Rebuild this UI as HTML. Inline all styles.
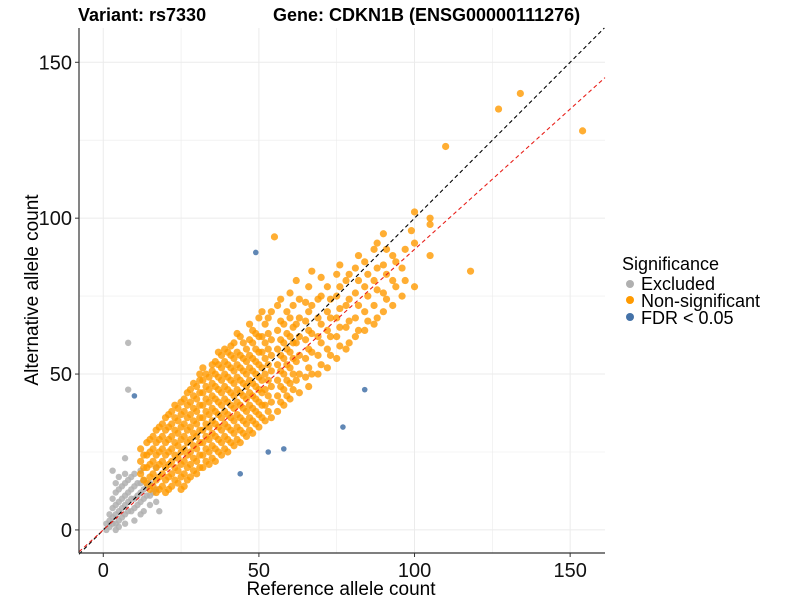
<!DOCTYPE html>
<html><head><meta charset="utf-8"><style>
body{margin:0;background:#fff}
svg text{font-family:"Liberation Sans",Arial,sans-serif}
</style></head><body>
<svg id="chart" width="800" height="600" xmlns="http://www.w3.org/2000/svg">
<rect width="800" height="600" fill="#fff"/>
<g id="grid"></g>
<g id="pts"></g>
<g id="lines"></g>
<line x1="79" y1="28" x2="79" y2="553" stroke="#333" stroke-width="1.2"/>
<line x1="79" y1="553" x2="605" y2="553" stroke="#333" stroke-width="1.2"/>
<g id="ticks"></g>
<text x="78" y="21" font-size="18" font-weight="bold">Variant: rs7330</text>
<text x="273" y="21" font-size="18" font-weight="bold">Gene: CDKN1B (ENSG00000111276)</text>
<text x="341" y="595" font-size="19" text-anchor="middle">Reference allele count</text>
<text transform="translate(38,290) rotate(-90)" font-size="19" text-anchor="middle">Alternative allele count</text>
<g>
<text x="622" y="270" font-size="18">Significance</text>
<g><circle cx="630" cy="284" r="4" fill="#b0b0b0"/><text x="641" y="290" font-size="18">Excluded</text></g>
<g><circle cx="630" cy="300" r="4" fill="#ff9a00"/><text x="641" y="307" font-size="18">Non-significant</text></g>
<g><circle cx="630" cy="317" r="4" fill="#4472a8"/><text x="641" y="324" font-size="18">FDR &lt; 0.05</text></g>
</g>
</svg>
<script>
const xTicks=[0,50,100,150];
const yTicks=[0,50,100,150];
const greyCols=[[1,[0,2]],[2,[1,3,5]],[3,[2,4,7,10,19]],[4,[0,2,5,8,12,15]],[5,[1,3,6,9,13,17]],[6,[4,7,10,14]],[7,[2,5,8,11,15,18,23]],[8,[6,9,12,16,45,60]],[9,[6,10,13,17]],[10,[3,7,10,14,18]],[11,[8,11,15]],[12,[5,9,12,15,19]],[13,[6,10,13,16]],[14,[11,14]],[15,[8,11,15]],[16,[12]],[17,[9,13,20]],[18,[6]]];
const orangeCols=[[12,[18,22,26]],[14,[15,20,24,28]],[16,[14,18,22,26,30]],[18,[13,17,21,25,29,33]],[20,[12,16,20,24,28,32,36]],[22,[14,18,22,26,30,34,38]],[24,[15,19,23,27,31,35,39]],[26,[14,18,22,26,30,34,38,42]],[28,[17,21,25,29,33,37,41,45]],[30,[18,22,26,30,34,38,42,46]],[32,[20,24,28,32,36,40,44,48,52]],[34,[21,25,29,33,37,41,45,49]],[36,[22,26,30,34,38,42,46,50,54]],[38,[24,28,32,36,40,44,48,52,56]],[40,[25,29,33,37,41,45,49,53,57]],[42,[27,31,35,39,43,47,51,55,60]],[44,[28,32,36,40,44,48,52,56,62]],[46,[30,34,38,42,46,50,54,58]],[48,[31,35,39,43,47,51,55,60,64]],[50,[33,37,41,45,49,53,57,62,68]],[52,[35,40,45,50,55,60,66]],[54,[36,41,46,51,56,61,70]],[55,[94]],[56,[38,43,48,53,58,64,72]],[58,[40,45,50,55,60,66]],[60,[42,47,52,57,62,68,76]],[63,[44,50,56,62,68,74]],[66,[46,52,58,64,70,78]],[69,[50,56,62,68,74]],[72,[52,58,64,70,78]],[75,[55,62,68,75,82]],[78,[58,65,72,80]],[81,[62,68,76,84]],[84,[64,70,78,86]],[87,[66,72,80,90]],[90,[70,76,85,95]],[93,[72,80,88]],[96,[75,84]],[99,[96]],[100,[78,92,102]],[105,[88,98,100]],[110,[123]],[118,[83]],[127,[135]],[134,[140]],[154,[128]]];
const orangeCols2=[[13,[16,20,24]],[15,[13,17,21,25,29]],[17,[12,16,20,24,28,32]],[19,[14,18,22,26,30,34]],[21,[13,17,21,25,29,33,37]],[23,[16,20,24,28,32,36,40]],[25,[13,17,21,25,29,33,37,41]],[27,[16,20,24,28,32,36,40,44]],[29,[19,23,27,31,35,39,43,47]],[31,[20,24,28,32,36,40,44,48,50]],[33,[22,26,30,34,38,42,46,50]],[35,[23,27,31,35,39,43,47,51,53]],[37,[25,29,33,37,41,45,49,53,57]],[39,[26,30,34,38,42,46,50,54,58]],[41,[28,32,36,40,44,48,52,56,59]],[43,[29,33,37,41,45,49,53,57,63]],[45,[31,35,39,43,47,51,55,60]],[47,[32,36,40,44,48,52,56,61,66]],[49,[34,38,42,46,50,54,58,63]],[51,[36,40,44,48,52,57,62,70]],[53,[38,43,48,53,58,63,68]],[57,[41,46,51,56,61,67,74]],[59,[43,48,53,58,63,70]],[61,[45,50,55,60,65,72]],[62,[48,54,60,66,80]],[65,[49,55,61,67,73]],[67,[50,57,63,72,83]],[70,[53,60,66,75,81]],[73,[56,62,68,74]],[76,[59,65,71,78,85]],[79,[60,67,74,82]],[82,[64,72,80,88]],[85,[67,75,82]],[88,[68,77,84,92]],[91,[74,82,90]],[94,[78,86]],[97,[80,90]]];
const blueRef=[49,10,84,77,53,58,44];
const blueAlt=[89,43,45,33,25,26,18];
const X0=-7.8,X1=161.2,Y0=-7.4,Y1=161;
const sx=v=>79+(v-X0)/(X1-X0)*526;
const sy=v=>553-(v-Y0)/(Y1-Y0)*525;
const NS="http://www.w3.org/2000/svg";
function mk(t,a,p){const e=document.createElementNS(NS,t);for(const k in a)e.setAttribute(k,a[k]);p.appendChild(e);return e;}
const grid=document.getElementById('grid');
for(let v=0;v<=150;v+=25){
 const gx=mk('line',{x1:sx(v),x2:sx(v),y1:28,y2:553,stroke:'#ebebeb','stroke-width':v%50?0.6:1},grid);
 
 
 const gy=mk('line',{x1:79,x2:605,y1:sy(v),y2:sy(v),stroke:'#ebebeb','stroke-width':v%50?0.6:1},grid);
 
 
}
const ticks=document.getElementById('ticks');
xTicks.forEach(v=>{
 mk('line',{x1:sx(v),x2:sx(v),y1:553,y2:557,stroke:'#333'},ticks);
 const t=mk('text',{x:sx(v),y:577,'font-size':20,'text-anchor':'middle',fill:'#111'},ticks);t.textContent=v;
 
 
});
yTicks.forEach(v=>{
 mk('line',{x1:75,x2:79,y1:sy(v),y2:sy(v),stroke:'#333'},ticks);
 const t=mk('text',{x:72,y:sy(v)+7,'font-size':20,'text-anchor':'end',fill:'#111'},ticks);t.textContent=v;
 
 
});
const pts=document.getElementById('pts');
greyCols.forEach(([x,ys])=>ys.forEach(y=>{
 const c=mk('circle',{cx:sx(x),cy:sy(y),r:3.2,fill:'#b0b0b0','fill-opacity':0.85},pts);
 
 
}));
orangeCols.concat(orangeCols2).forEach(([x,ys])=>ys.forEach(y=>{
 const c=mk('circle',{cx:sx(x),cy:sy(y),r:3.6,fill:'#ff9a00','fill-opacity':0.8},pts);
 
 
}));
blueRef.forEach((x,i)=>{
 const c=mk('circle',{cx:sx(x),cy:sy(blueAlt[i]),r:2.8,fill:'#4472a8','fill-opacity':0.85},pts);
 
 
});
const lines=document.getElementById('lines');
const l1=mk('line',{x1:sx(X0),y1:sy(X0),x2:sx(Y1),y2:sy(Y1),stroke:'#000','stroke-dasharray':'4,3','stroke-width':1.1},lines);


const slope=0.9;
const l2=mk('line',{x1:sx(X0),y1:sy(X0*slope),x2:sx(X1),y2:sy(X1*slope),stroke:'#e8201a','stroke-dasharray':'4,3','stroke-width':1.1},lines);


</script>
</body></html>
